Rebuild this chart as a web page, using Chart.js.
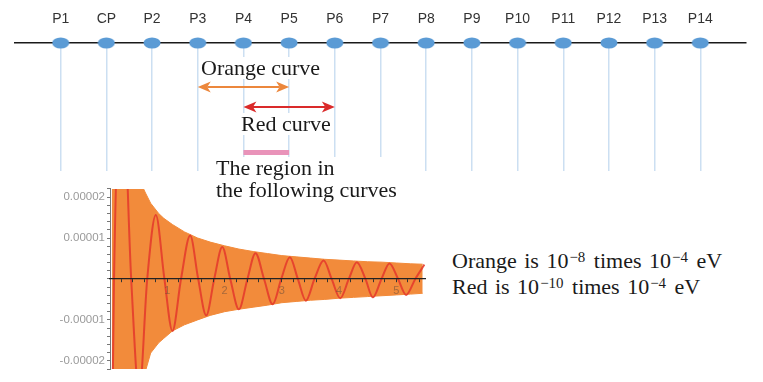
<!DOCTYPE html>
<html>
<head>
<meta charset="utf-8">
<script src="https://cdn.jsdelivr.net/npm/chart.js@4.4.1/dist/chart.umd.min.js"></script>
<style>
  html, body { margin: 0; padding: 0; background: #fff; }
  #stage { position: relative; width: 763px; height: 382px; overflow: hidden; background: #fff; }
  canvas { position: absolute; }
  #top-chart { left: 0; top: 0; }
  #decay-chart { left: 0; top: 180px; }
  .note { position: absolute; font-family: "Liberation Serif", serif; font-size: 22px; line-height: 22px; color: #1a1a1a; background: #fff; white-space: nowrap; }
  .legend-note { position: absolute; font-family: "Liberation Serif", serif; font-size: 22px; line-height: 24px; color: #1a1a1a; white-space: nowrap; word-spacing: 2px; }
  .sup { position: relative; top: -0.42em; font-size: 0.68em; margin: 0 1px; }
</style>
</head>
<body>
<div id="stage">
  <canvas id="top-chart" width="763" height="180"></canvas>
  <canvas id="decay-chart" width="440" height="200"></canvas>
  <div class="note" style="left:201px; top:57px;">Orange curve</div>
  <div class="note" style="left:241px; top:113px;">Red curve</div>
  <div class="note" style="left:216px; top:157px; padding-right:4px;">The region in<br>the following curves</div>
  <div class="legend-note" style="left:452px; top:249px;">Orange is 10<span class="sup">−8</span> times 10<span class="sup">−4</span> eV<br>Red is 10<span class="sup">−10</span> times 10<span class="sup">−4</span> eV</div>
</div>
<script>
// points along the line, left to right
const pointLabels = ["P1", "CP", "P2", "P3", "P4", "P5", "P6", "P7", "P8", "P9", "P10", "P11", "P12", "P13", "P14"];
const pointSlots = [1, 2, 3, 4, 5, 6, 7, 8, 9, 10, 11, 12, 13, 14, 15];

// red curve, x and amplitude (units of 1e-5)
const redX = [0.02, 0.07, 0.21, 0.37, 0.51, 0.65, 0.80, 0.95, 1.09, 1.24, 1.40, 1.54, 1.68, 1.82, 1.96, 2.10, 2.25, 2.40, 2.54, 2.69, 2.84, 2.99, 3.14, 3.28, 3.42, 3.57, 3.73, 3.87, 4.02, 4.17, 4.31, 4.46, 4.59, 4.74, 4.88, 5.03, 5.17, 5.33, 5.49];
const redY = [-6.0, 0, 5.0, 0, -2.8, 0, 1.56, 0, -1.27, 0, 1.06, 0, -0.89, 0, 0.78, 0, -0.74, 0, 0.63, 0, -0.62, 0, 0.53, 0, -0.53, 0, 0.45, 0, -0.47, 0, 0.41, 0, -0.45, 0, 0.38, 0, -0.39, 0, 0.35];

// orange band envelope (units of 1e-5)
const envX = [0.03, 0.30, 0.57, 0.62, 0.71, 0.85, 0.94, 1.09, 1.30, 1.53, 1.75, 2.00, 2.25, 2.50, 2.75, 3.00, 3.25, 3.50, 3.75, 4.00, 4.25, 4.50, 4.75, 5.00, 5.25, 5.46];
const envUpper = [2.6, 2.6, 2.25, 2.1, 1.85, 1.6, 1.48, 1.33, 1.15, 1.0, 0.9, 0.81, 0.73, 0.67, 0.62, 0.57, 0.54, 0.51, 0.48, 0.46, 0.44, 0.42, 0.41, 0.39, 0.37, 0.36];
const envLower = [-2.6, -2.6, -2.6, -2.25, -1.81, -1.56, -1.45, -1.27, -1.12, -1.0, -0.89, -0.8, -0.74, -0.69, -0.64, -0.58, -0.55, -0.52, -0.5, -0.47, -0.45, -0.43, -0.41, -0.39, -0.37, -0.35];

const xTickLabels = [1, 2, 3, 4, 5];
const yTickLabels = [-0.00002, -0.00001, 0.00001, 0.00002];

Chart.defaults.font.family = "Liberation Sans";

function ellipseDot() {
  const c = document.createElement("canvas");
  c.width = 18;
  c.height = 12;
  const g = c.getContext("2d");
  g.fillStyle = "#5B9BD5";
  g.beginPath();
  g.ellipse(9, 6, 8.5, 5.5, 0, 0, Math.PI * 2);
  g.fill();
  return c;
}

function drawArrow(ctx, x1, x2, y, color) {
  const head = 13, half = 5.5, notch = 3.5;
  ctx.save();
  ctx.strokeStyle = color;
  ctx.fillStyle = color;
  ctx.lineWidth = 2;
  ctx.beginPath();
  ctx.moveTo(x1 + head - notch, y);
  ctx.lineTo(x2 - head + notch, y);
  ctx.stroke();
  [[x1, 1], [x2, -1]].forEach(([tip, dir]) => {
    ctx.beginPath();
    ctx.moveTo(tip, y);
    ctx.lineTo(tip + dir * head, y - half);
    ctx.lineTo(tip + dir * (head - notch), y);
    ctx.lineTo(tip + dir * head, y + half);
    ctx.closePath();
    ctx.fill();
  });
  ctx.restore();
}

// arrows and the pink marker, placed on the slots of the top scale
const rangeMarks = {
  id: "rangeMarks",
  afterDraw(chart) {
    const x = chart.scales.x;
    const ctx = chart.ctx;
    drawArrow(ctx, x.getPixelForValue(4), x.getPixelForValue(6), 87, "#EC873C");
    drawArrow(ctx, x.getPixelForValue(5), x.getPixelForValue(7), 107, "#DA2A2A");
    ctx.save();
    ctx.fillStyle = "#E993B9";
    const a = x.getPixelForValue(5);
    ctx.fillRect(a, 150, x.getPixelForValue(6) - a, 5);
    ctx.restore();
  },
};

new Chart(document.getElementById("top-chart"), {
  type: "scatter",
  data: {
    datasets: [
      {
        data: pointSlots.map((s) => ({ x: s, y: 0 })),
        pointStyle: ellipseDot(),
        pointRadius: 6,
        clip: false,
      },
    ],
  },
  options: {
    responsive: false,
    animation: false,
    layout: { padding: { left: 15, right: 17, top: 0, bottom: 9 } },
    plugins: { legend: { display: false }, tooltip: { enabled: false } },
    scales: {
      x: {
        type: "linear",
        position: "top",
        min: 0,
        max: 16,
        afterBuildTicks: (s) => {
          s.ticks = pointSlots.map((v) => ({ value: v }));
        },
        afterFit: (s) => {
          s.height = 43;
        },
        ticks: {
          autoSkip: false,
          maxRotation: 0,
          padding: 15,
          color: "#333",
          font: { size: 14 },
          callback: (v, i) => pointLabels[i],
        },
        grid: { color: "#CCDFF2", lineWidth: 1.5, drawTicks: false },
        border: { color: "#1a1a1a", width: 1.5 },
      },
      y: { display: false, min: -1, max: 0 },
    },
  },
  plugins: [rangeMarks],
});

new Chart(document.getElementById("decay-chart"), {
  type: "line",
  data: {
    datasets: [
      {
        label: "Red",
        data: redX.map((x, i) => ({ x, y: redY[i] * 1e-5 })),
        borderColor: "rgba(228, 60, 44, 0.9)",
        borderWidth: 2,
        pointRadius: 0,
        cubicInterpolationMode: "monotone",
        fill: false,
      },
      {
        label: "Orange upper",
        data: envX.map((x, i) => ({ x, y: envUpper[i] * 1e-5 })),
        borderColor: "#F28B3B",
        borderWidth: 1,
        pointRadius: 0,
        backgroundColor: "#F28B3B",
        fill: "+1",
      },
      {
        label: "Orange lower",
        data: envX.map((x, i) => ({ x, y: envLower[i] * 1e-5 })),
        borderColor: "#F28B3B",
        borderWidth: 1,
        pointRadius: 0,
        fill: false,
      },
    ],
  },
  options: {
    responsive: false,
    animation: false,
    layout: { padding: { left: 0, right: 15, top: 8, bottom: 11 } },
    plugins: { legend: { display: false }, tooltip: { enabled: false } },
    scales: {
      x: {
        type: "linear",
        min: 0,
        max: 5.5,
        position: { y: 0 },
        afterBuildTicks: (s) => {
          const t = [];
          for (let i = 1; i <= 27; i++) t.push({ value: i / 5 });
          s.ticks = t;
        },
        ticks: {
          z: 1,
          autoSkip: false,
          maxRotation: 0,
          padding: 2,
          color: "rgba(90, 70, 60, 0.5)",
          font: { size: 11 },
          callback: (v) => {
            const r = Math.round(v);
            return Math.abs(v - r) < 1e-6 && xTickLabels.includes(r) ? String(r) : "";
          },
        },
        grid: { z: 1, drawOnChartArea: false, tickLength: 3, color: "#333" },
        border: { z: 1, color: "#222", width: 1.2 },
      },
      y: {
        min: -2.2e-5,
        max: 2.2e-5,
        position: "left",
        afterBuildTicks: (s) => {
          const t = [];
          for (let i = -11; i <= 11; i++) t.push({ value: i * 2e-6 });
          s.ticks = t;
        },
        afterFit: (s) => {
          s.width = 110;
        },
        ticks: {
          autoSkip: false,
          padding: 2,
          color: "#9a9a9a",
          font: { size: 11.5 },
          callback: (v) => {
            const m = yTickLabels.find((t) => Math.abs(t - v) < 1e-9);
            return m === undefined ? "" : m.toFixed(5);
          },
        },
        grid: { drawOnChartArea: false, tickLength: 3, color: "#777" },
        border: { color: "#777", width: 1 },
      },
    },
  },
});
</script>
</body>
</html>
